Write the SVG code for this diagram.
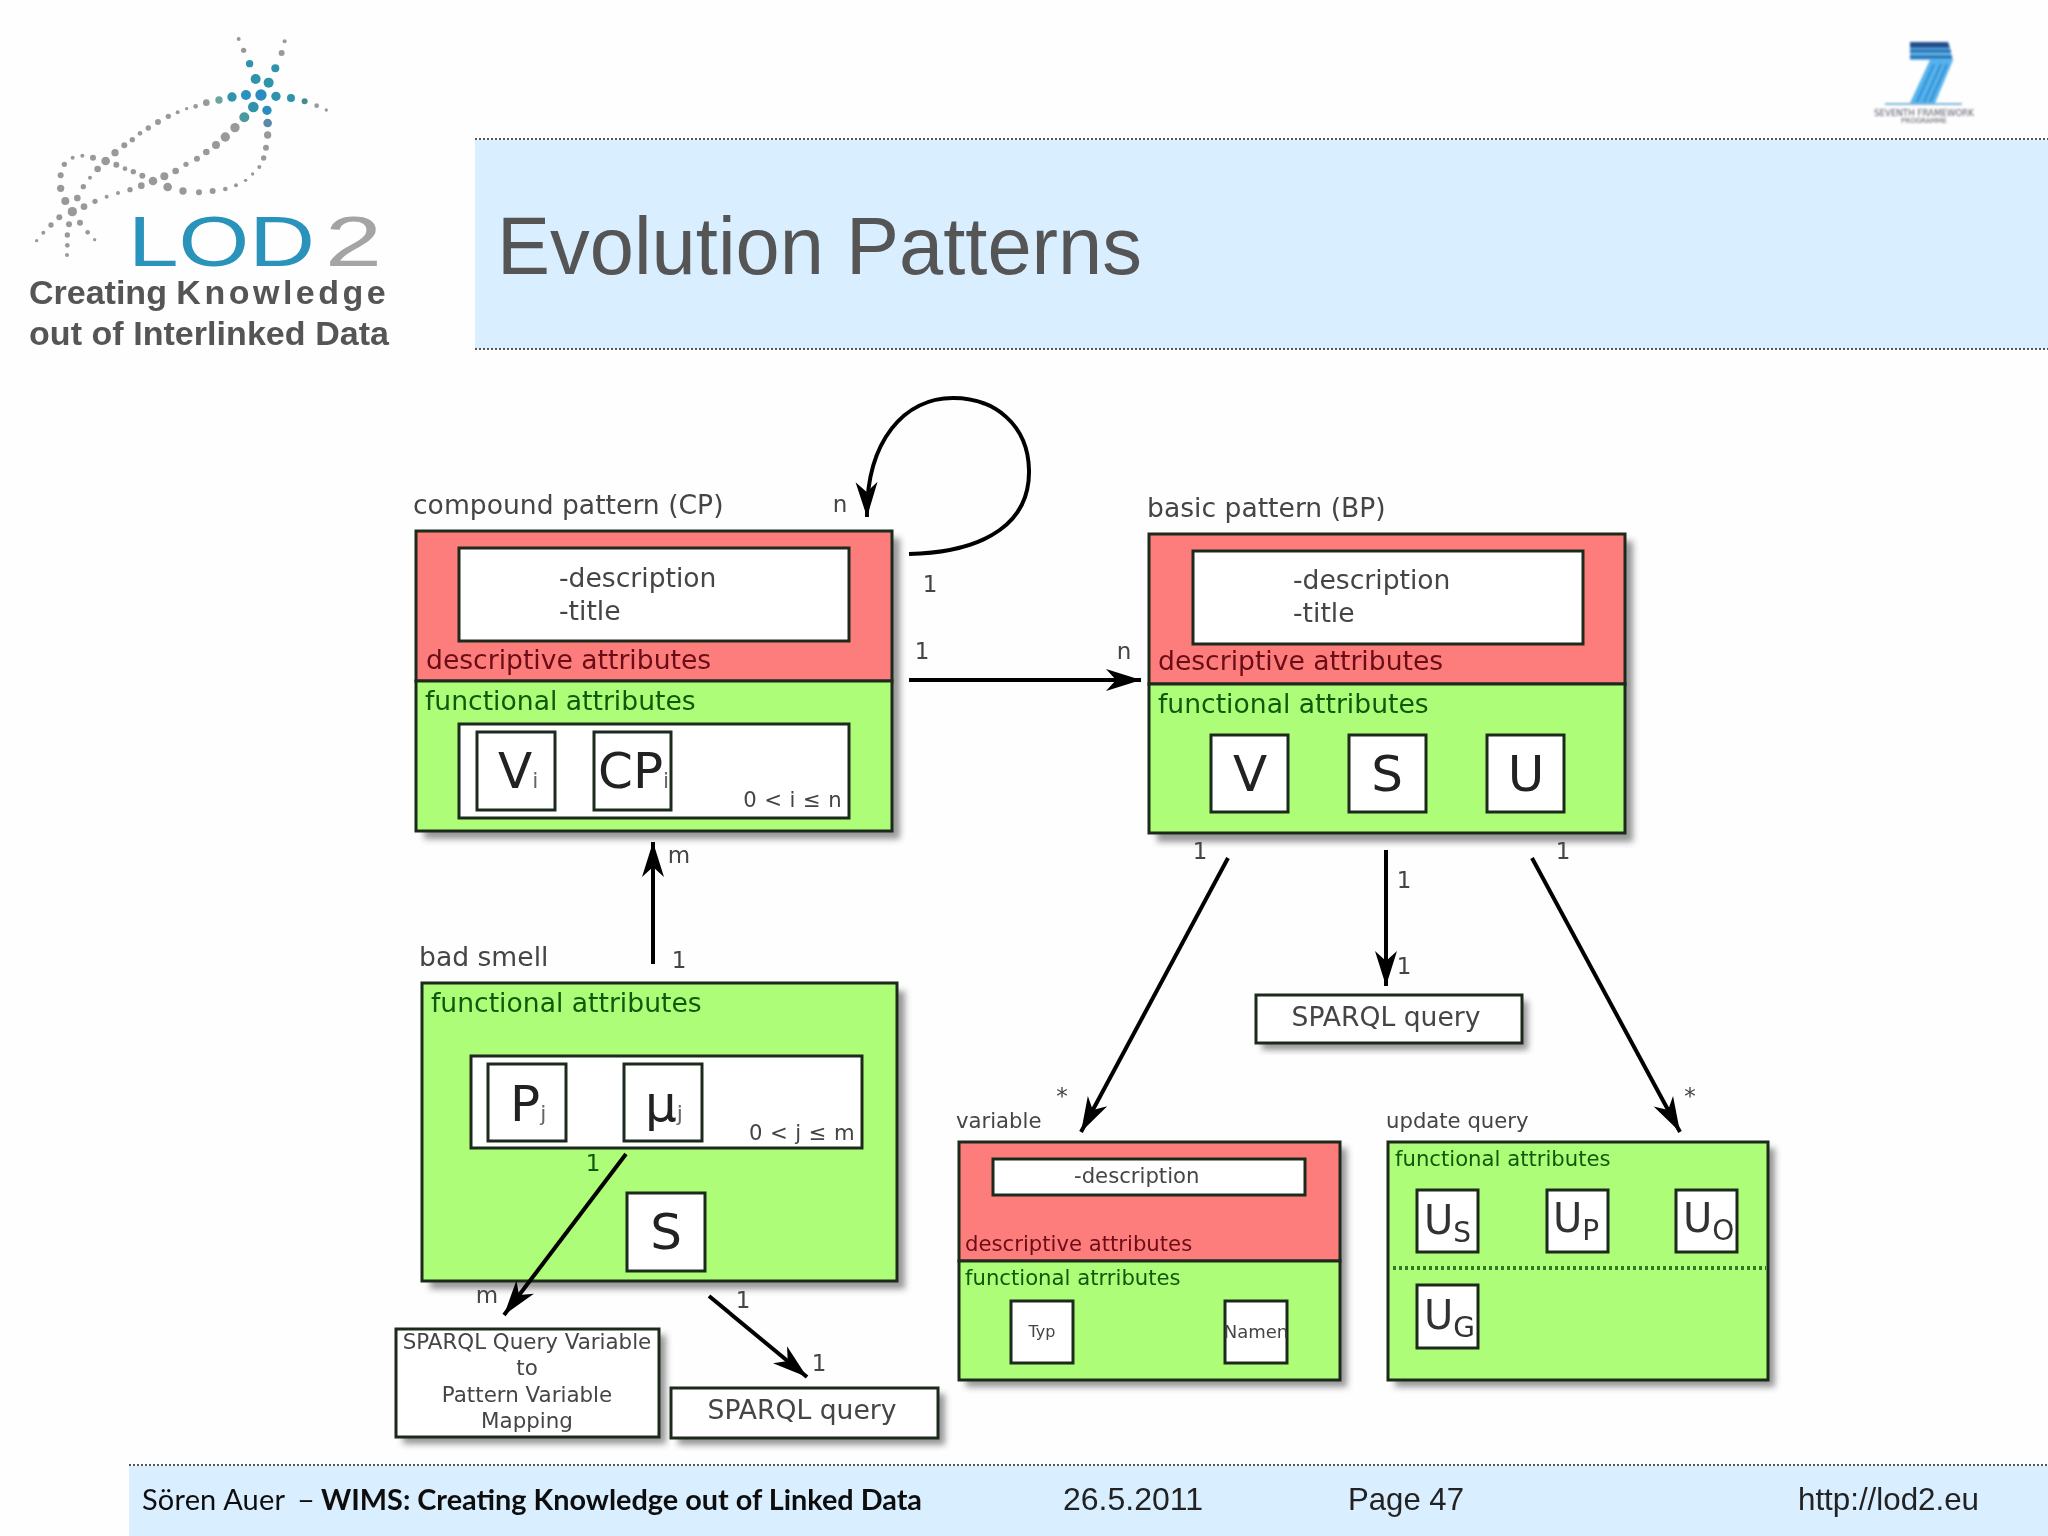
<svg xmlns="http://www.w3.org/2000/svg" width="2048" height="1536" viewBox="0 0 2048 1536">
<style>
text{font-family:"DejaVu Sans",sans-serif;fill:#444}
.box{stroke:#1c2a1c;stroke-width:3}
.w{fill:#fff}.r{fill:#fd7b7c}.g{fill:#aefd78}
.sh{fill:#555;opacity:.6;filter:url(#b)}
.l{font-size:26.6px}.m{font-size:23px}.s{font-size:21.2px}.map{font-size:21.4px}
.dr{fill:#6a1018}.dg{fill:#0f5a0a}
.big{font-size:50px;fill:#222}.sub{font-size:22px;fill:#666}
.mid{text-anchor:middle}
.c{fill:none;stroke:#000;stroke-width:4;marker-end:url(#a)}
.dot{stroke:#555;stroke-width:2;stroke-dasharray:2 2;fill:none}
.ft{font-family:"Liberation Sans",sans-serif;font-size:32px;fill:#222}
.ca{font-family:Lato,sans-serif;font-size:29px;fill:#111}
</style>
<defs>
<filter id="b" x="-10%" y="-10%" width="120%" height="120%"><feGaussianBlur stdDeviation="3"/></filter>
<filter id="soft" x="0" y="0" width="100%" height="100%"><feGaussianBlur stdDeviation="0.6"/></filter>
<filter id="soft2" x="-10%" y="-10%" width="120%" height="120%"><feGaussianBlur stdDeviation="1"/></filter>
<marker id="a" markerUnits="userSpaceOnUse" markerWidth="44" markerHeight="30" viewBox="0 0 44 30" refX="38" refY="15" orient="auto"><path d="M38,15 L3,4 L13,15 L3,26 Z" fill="#000"/></marker>
</defs>
<rect width="2048" height="1536" fill="#fefefe"/>
<g id="slide" filter="url(#soft)">
<g id="header">
<rect x="475" y="140" width="1573" height="209" fill="#d9eeff"/>
<path class="dot" d="M475,139H2048M475,349H2048"/>
<text x="497" y="274" font-size="82" style="font-family:'Liberation Sans',sans-serif;fill:#555" textLength="645" lengthAdjust="spacingAndGlyphs">Evolution Patterns</text>
</g>
<g id="lod2-logo">
<g transform="scale(.3333)" fill="#9b9b9b">
<g fill="#999"><circle cx="716" cy="117" r="6"/><circle cx="731" cy="151" r="8"/><circle cx="854" cy="124" r="6"/><circle cx="845" cy="159" r="9"/><circle cx="619" cy="308" r="10"/><circle cx="587" cy="319" r="7"/><circle cx="560" cy="326" r="5"/><circle cx="533" cy="337" r="6"/><circle cx="505" cy="349" r="8"/><circle cx="474" cy="366" r="9"/><circle cx="445" cy="384" r="8"/><circle cx="420" cy="400" r="7"/><circle cx="397" cy="419" r="8"/><circle cx="373" cy="436" r="9"/><circle cx="345" cy="458" r="11"/><circle cx="317" cy="483" r="13"/><circle cx="293" cy="507" r="10"/><circle cx="270" cy="533" r="6"/><circle cx="250" cy="560" r="8"/><circle cx="232" cy="594" r="10"/><circle cx="217" cy="635" r="14"/><circle cx="207" cy="673" r="9"/><circle cx="202" cy="705" r="8"/><circle cx="202" cy="736" r="7"/><circle cx="201" cy="765" r="6"/><circle cx="950" cy="317" r="7"/><circle cx="979" cy="330" r="5"/><circle cx="705" cy="383" r="14"/><circle cx="676" cy="411" r="14"/><circle cx="648" cy="435" r="12"/><circle cx="619" cy="456" r="10"/><circle cx="591" cy="476" r="9"/><circle cx="558" cy="493" r="8"/><circle cx="527" cy="513" r="10"/><circle cx="493" cy="529" r="12"/><circle cx="459" cy="543" r="13"/><circle cx="424" cy="557" r="10"/><circle cx="390" cy="569" r="8"/><circle cx="354" cy="579" r="6"/><circle cx="320" cy="590" r="6"/><circle cx="285" cy="604" r="8"/><circle cx="252" cy="620" r="10"/><circle cx="178" cy="652" r="9"/><circle cx="153" cy="675" r="8"/><circle cx="130" cy="698" r="6"/><circle cx="110" cy="722" r="5"/><circle cx="803" cy="405" r="11"/><circle cx="798" cy="443" r="9"/><circle cx="791" cy="474" r="8"/><circle cx="778" cy="501" r="6"/><circle cx="758" cy="522" r="5"/><circle cx="737" cy="541" r="5"/><circle cx="708" cy="556" r="6"/><circle cx="676" cy="567" r="7"/><circle cx="638" cy="573" r="9"/><circle cx="597" cy="577" r="9"/><circle cx="549" cy="573" r="11"/><circle cx="503" cy="561" r="13"/><circle cx="427" cy="527" r="9"/><circle cx="400" cy="515" r="8"/><circle cx="375" cy="506" r="7"/><circle cx="349" cy="494" r="9"/><circle cx="279" cy="473" r="9"/><circle cx="247" cy="467" r="6"/><circle cx="218" cy="473" r="6"/><circle cx="193" cy="493" r="8"/><circle cx="182" cy="526" r="9"/><circle cx="182" cy="565" r="11"/><circle cx="196" cy="603" r="12"/><circle cx="240" cy="668" r="9"/><circle cx="263" cy="697" r="7"/><circle cx="284" cy="719" r="5"/></g>
<g fill="#2e93ab"><circle cx="749" cy="191" r="11"/><circle cx="767" cy="237" r="15"/><circle cx="826" cy="205" r="12"/><circle cx="806" cy="248" r="15"/><circle cx="783" cy="285" r="17" fill="#2a8cc0"/><circle cx="738" cy="285" r="15" fill="#2a90c0"/><circle cx="696" cy="291" r="14"/><circle cx="657" cy="300" r="11" fill="#6aa5a0"/><circle cx="828" cy="289" r="14"/><circle cx="873" cy="294" r="12"/><circle cx="914" cy="304" r="9" fill="#4a8a8a"/><circle cx="760" cy="321" r="16"/><circle cx="733" cy="352" r="15" fill="#4a9aa0"/><circle cx="801" cy="331" r="14" fill="#2a8cc0"/><circle cx="803" cy="369" r="13" fill="#5a8aa8"/></g>
</g>
<text x="128" y="266" font-size="70" textLength="187" lengthAdjust="spacingAndGlyphs" style="font-family:'Liberation Sans',sans-serif;fill:#2b93bb">LOD</text>
<text x="325" y="266" font-size="70" textLength="57" lengthAdjust="spacingAndGlyphs" style="font-family:'Liberation Sans',sans-serif;fill:#a4a4a4">2</text>
<text x="29" y="304" font-size="34" font-weight="bold" style="font-family:'Liberation Sans',sans-serif;fill:#555">Creating <tspan letter-spacing="3.5">Knowledge</tspan></text>
<text x="29" y="345" font-size="34" font-weight="bold" textLength="360" style="font-family:'Liberation Sans',sans-serif;fill:#555">out of Interlinked Data</text>
</g>
<g id="fp7-logo" filter="url(#soft2)">
<path d="M1910,42H1948L1953,60L1935,103H1910L1930,60H1910Z" fill="#55b2ec"/>
<path d="M1910,42H1948L1950,48H1910Z" fill="#254f8e"/>
<path d="M1910,51H1951M1910,57H1952" stroke="#2a5f9e" stroke-width="2.5"/>
<path d="M1934,64L1917,102M1941,64L1924,102M1947,64L1930,102" stroke="#1f7fc8" stroke-width="1.5"/>
<path d="M1885,104H1962" stroke="#7fb7d8" stroke-width="2"/>
<text x="1924" y="116" font-size="8.5" class="mid" textLength="100" lengthAdjust="spacingAndGlyphs" style="fill:#556">SEVENTH FRAMEWORK</text>
<text x="1924" y="123" font-size="7" class="mid" style="fill:#556">PROGRAMME</text>
</g>
<g id="footer">
<rect x="129" y="1466" width="1919" height="70" fill="#d9eeff"/>
<path class="dot" d="M129,1465H2048"/>
<text x="142" y="1510" class="ca" textLength="143">Sören Auer</text>
<text x="297" y="1510" class="ca" font-size="32" textLength="18" lengthAdjust="spacingAndGlyphs">–</text>
<text x="321" y="1510" class="ca" font-weight="bold" textLength="601" lengthAdjust="spacingAndGlyphs">WIMS: Creating Knowledge out of Linked Data</text>
<text x="1063" y="1510" class="ft">26.5.2011</text>
<text x="1348" y="1510" class="ft" textLength="116" lengthAdjust="spacingAndGlyphs">Page 47</text>
<text x="1798" y="1510" class="ft" textLength="181" lengthAdjust="spacingAndGlyphs">http://lod2.eu</text>
</g>
<g id="compound-pattern">
<rect class="sh" x="424" y="538" width="476" height="301"/>
<rect class="box r" x="416" y="531" width="476" height="150"/>
<rect class="box g" x="416" y="681" width="476" height="150"/>
<rect class="box w" x="459" y="548" width="390" height="93"/>
<rect class="box w" x="459" y="724" width="390" height="94"/>
<rect class="box w" x="477" y="732" width="78" height="78"/>
<rect class="box w" x="594" y="732" width="77" height="78"/>
<text class="l" x="413" y="514">compound pattern (CP)</text>
<text class="l" x="559" y="587">-description</text>
<text class="l" x="559" y="620">-title</text>
<text class="l dr" x="426" y="669">descriptive attributes</text>
<text class="l dg" x="425" y="710">functional attributes</text>
<text class="big" x="498" y="788">V<tspan class="sub">i</tspan></text>
<text class="big" x="598" y="788">CP<tspan class="sub">i</tspan></text>
<text class="s" x="842" y="807" text-anchor="end" letter-spacing=".4">0 &lt; i ≤ n</text>
</g>
<g id="basic-pattern">
<rect class="sh" x="1157" y="541" width="476" height="301"/>
<rect class="box r" x="1149" y="534" width="476" height="150"/>
<rect class="box g" x="1149" y="684" width="476" height="149"/>
<rect class="box w" x="1193" y="551" width="390" height="93"/>
<rect class="box w" x="1211" y="735" width="77" height="77"/>
<rect class="box w" x="1349" y="735" width="77" height="77"/>
<rect class="box w" x="1487" y="735" width="77" height="77"/>
<text class="l" x="1147" y="517">basic pattern (BP)</text>
<text class="l" x="1293" y="589">-description</text>
<text class="l" x="1293" y="622">-title</text>
<text class="l dr" x="1158" y="670">descriptive attributes</text>
<text class="l dg" x="1158" y="713">functional attributes</text>
<text class="big mid" x="1250" y="791">V</text>
<text class="big mid" x="1387" y="791">S</text>
<text class="big mid" x="1526" y="791">U</text>
</g>
<g id="bad-smell">
<rect class="sh" x="430" y="991" width="475" height="298"/>
<rect class="box g" x="422" y="983" width="475" height="298"/>
<rect class="box w" x="471" y="1056" width="391" height="92"/>
<rect class="box w" x="488" y="1064" width="78" height="77"/>
<rect class="box w" x="624" y="1064" width="78" height="77"/>
<rect class="box w" x="627" y="1193" width="78" height="78"/>
<text class="l" x="419" y="966">bad smell</text>
<text class="l dg" x="431" y="1012">functional attributes</text>
<text class="big" x="510" y="1121">P<tspan class="sub">j</tspan></text>
<text class="big" x="645" y="1121">μ<tspan class="sub">j</tspan></text>
<text class="big mid" x="666" y="1249">S</text>
<text class="s" x="855" y="1140" text-anchor="end" letter-spacing=".4">0 &lt; j ≤ m</text>
</g>
<g id="mapping">
<rect class="sh" x="403" y="1335" width="263" height="109"/>
<rect class="box w" x="396" y="1329" width="263" height="108"/>
<g class="map" text-anchor="middle"><text x="527" y="1349">SPARQL Query Variable</text><text x="527" y="1375">to</text><text x="527" y="1402">Pattern Variable</text><text x="527" y="1428">Mapping</text></g>
</g>
<g id="sparql-query-bottom">
<rect class="sh" x="678" y="1394" width="267" height="51"/>
<rect class="box w" x="671" y="1388" width="267" height="50"/>
<text class="l mid" x="802" y="1419">SPARQL query</text>
</g>
<g id="sparql-query-top">
<rect class="sh" x="1262" y="1001" width="266" height="49"/>
<rect class="box w" x="1256" y="995" width="266" height="48"/>
<text class="l mid" x="1386" y="1026">SPARQL query</text>
</g>
<g id="variable">
<rect class="sh" x="966" y="1148" width="381" height="239"/>
<rect class="box r" x="959" y="1142" width="381" height="119"/>
<rect class="box g" x="959" y="1261" width="381" height="119"/>
<rect class="box w" x="993" y="1159" width="312" height="36"/>
<rect class="box w" x="1011" y="1301" width="62" height="62"/>
<rect class="box w" x="1225" y="1301" width="62" height="62"/>
<text class="s" x="956" y="1128">variable</text>
<text class="s" x="1074" y="1183">-description</text>
<text class="s dr" x="965" y="1251">descriptive attributes</text>
<text class="s dg" x="965" y="1285">functional atrributes</text>
<text x="1042" y="1337" font-size="16" class="mid">Typ</text>
<text x="1256" y="1338" font-size="18" class="mid">Namen</text>
</g>
<g id="update-query">
<rect class="sh" x="1395" y="1148" width="380" height="239"/>
<rect class="box g" x="1388" y="1142" width="380" height="238"/>
<path d="M1393,1268H1766" stroke="#2f7a20" stroke-width="4" stroke-dasharray="3 3" fill="none"/>
<rect class="box w" x="1417" y="1190" width="61" height="62"/>
<rect class="box w" x="1547" y="1190" width="61" height="62"/>
<rect class="box w" x="1676" y="1190" width="61" height="62"/>
<rect class="box w" x="1417" y="1285" width="61" height="63"/>
<text class="s" x="1386" y="1128">update query</text>
<text class="s dg" x="1395" y="1166">functional attributes</text>
<g font-size="40"><text x="1424" y="1234" style="fill:#333">U<tspan font-size="28" dy="8">S</tspan></text><text x="1553" y="1232" style="fill:#333">U<tspan font-size="28" dy="8">P</tspan></text><text x="1683" y="1232" style="fill:#333">U<tspan font-size="28" dy="8">O</tspan></text><text x="1424" y="1329" style="fill:#333">U<tspan font-size="28" dy="8">G</tspan></text></g>
</g>
<g id="connectors">
<path class="c" d="M909,554C990,552 1030,520 1029,470C1028,425 995,398 953,398C905,398 866,440 867,517"/>
<path class="c" d="M909,680H1141"/>
<path class="c" d="M653,964V842"/>
<path class="c" d="M1386,850V986"/>
<path class="c" d="M1228,858L1081,1132"/>
<path class="c" d="M1532,858L1680,1132"/>
<path class="c" d="M626,1154L504,1315"/>
<path class="c" d="M709,1296L807,1377"/>
</g>
<g id="connector-labels" class="m" text-anchor="middle">
<text x="840" y="512">n</text><text x="930" y="592">1</text><text x="922" y="659">1</text><text x="1124" y="659">n</text>
<text x="679" y="863">m</text><text x="679" y="968">1</text><text x="1200" y="859">1</text><text x="1404" y="888">1</text><text x="1404" y="974">1</text><text x="1563" y="859">1</text>
<text x="1062" y="1104">*</text><text x="1690" y="1104">*</text>
<text x="593" y="1171" class="dg">1</text><text x="487" y="1303">m</text><text x="743" y="1308">1</text><text x="819" y="1371">1</text>
</g>
</g>
</svg>
